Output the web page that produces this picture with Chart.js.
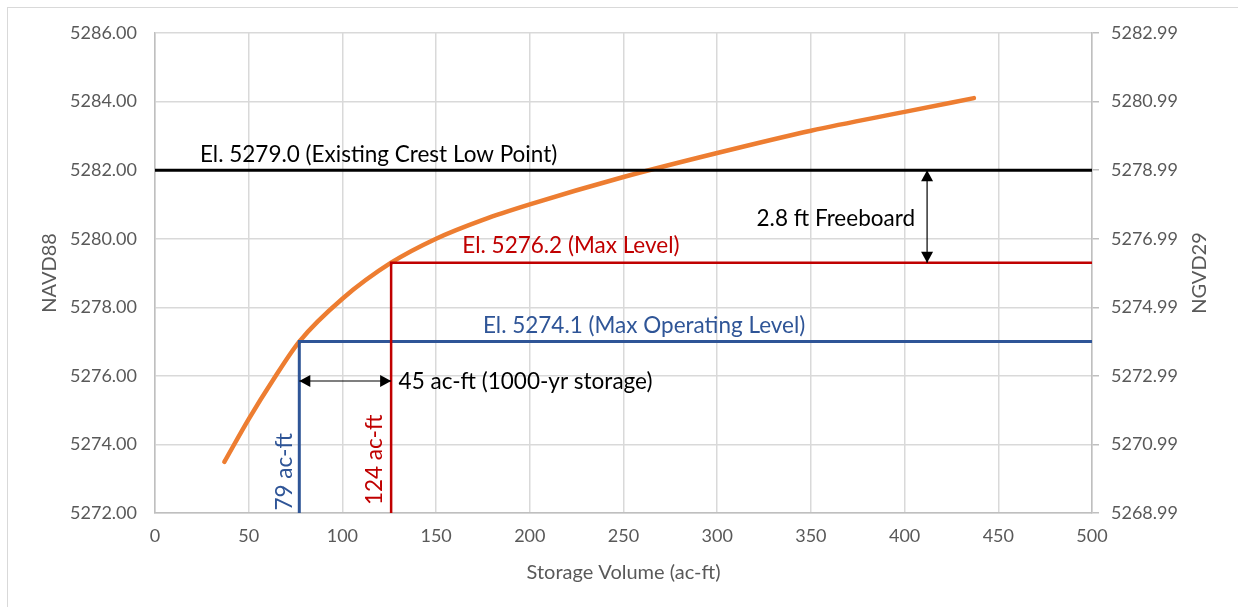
<!DOCTYPE html>
<html>
<head>
<meta charset="utf-8">
<script src="https://cdn.jsdelivr.net/npm/chart.js@4.4.1/dist/chart.umd.min.js"></script>
<style>
  html, body { margin: 0; padding: 0; background: #fff; }
  #frame { position: absolute; left: 7px; top: 7px; width: 1240px; height: 610px;
           border-left: 1px solid #d9d9d9; border-top: 1px solid #d9d9d9; }
  #wrap { position: absolute; left: 0; top: 0; width: 1238px; height: 607px; }
</style>
</head>
<body>
<div id="frame"></div>
<div id="wrap"><canvas id="chart"></canvas></div>
<script>
// stage-storage curve
const storageVolume = [37, 50, 63, 77, 100, 126, 150, 175, 200, 250, 300, 350, 400, 437];
const elevation = [5273.49, 5274.74, 5275.88, 5277.0, 5278.25, 5279.3, 5280.0, 5280.55, 5281.0, 5281.8, 5282.5, 5283.15, 5283.7, 5284.1];

// reference levels
const crestVol = [0, 500];
const crestEl = [5282, 5282];
const maxLevelVol = [126, 126, 500];
const maxLevelEl = [5272, 5279.3, 5279.3];
const maxOpVol = [77, 77, 500];
const maxOpEl = [5272, 5277, 5277];

// axes
const xTicks = [0, 50, 100, 150, 200, 250, 300, 350, 400, 450, 500];
const leftTicks = [5272, 5274, 5276, 5278, 5280, 5282, 5284, 5286];
const rightTickLabels = ['5268.99', '5270.99', '5272.99', '5274.99', '5276.99', '5278.99', '5280.99', '5282.99'];

const FONT = 'Lato, "Open Sans", sans-serif';
const pts = (xs, ys) => xs.map((x, i) => ({ x: x, y: ys[i] }));

// labels and arrows placed in data units
const notes = [
  { text: 'El. 5279.0 (Existing Crest Low Point)', x: 24, y: 5282.44, color: '#000000' },
  { text: 'El. 5276.2 (Max Level)', x: 164, y: 5279.79, color: '#c00000' },
  { text: 'El. 5274.1 (Max Operating Level)', x: 175, y: 5277.45, color: '#2f5597' },
  { text: '45 ac-ft (1000-yr storage)', x: 130, y: 5275.82, color: '#000000' },
  { text: '2.8 ft Freeboard', x: 321, y: 5280.57, color: '#000000' },
  { text: '79 ac-ft', x: 69.4, y: 5273.2, color: '#2f5597', rotate: true },
  { text: '124 ac-ft', x: 117, y: 5273.55, color: '#c00000', rotate: true }
];
const arrows = [
  { x1: 77, y1: 5275.85, x2: 126, y2: 5275.85 },
  { x1: 412, y1: 5282, x2: 412, y2: 5279.3 }
];

function arrowHead(ctx, x, y, ang) {
  ctx.save();
  ctx.translate(x, y);
  ctx.rotate(ang);
  ctx.beginPath();
  ctx.moveTo(0, 0);
  ctx.lineTo(-11, -6);
  ctx.lineTo(-11, 6);
  ctx.closePath();
  ctx.fill();
  ctx.restore();
}

const notesPlugin = {
  id: 'notes',
  afterDatasetsDraw(chart) {
    const ctx = chart.ctx;
    const xs = chart.scales.x, ys = chart.scales.y;
    ctx.save();
    ctx.strokeStyle = '#000';
    ctx.fillStyle = '#000';
    ctx.lineWidth = 1.2;
    arrows.forEach(a => {
      const x1 = xs.getPixelForValue(a.x1), y1 = ys.getPixelForValue(a.y1);
      const x2 = xs.getPixelForValue(a.x2), y2 = ys.getPixelForValue(a.y2);
      ctx.beginPath();
      ctx.moveTo(x1, y1);
      ctx.lineTo(x2, y2);
      ctx.stroke();
      const ang = Math.atan2(y2 - y1, x2 - x1);
      arrowHead(ctx, x2, y2, ang);
      arrowHead(ctx, x1, y1, ang + Math.PI);
    });
    ctx.font = '22.5px ' + FONT;
    ctx.textBaseline = 'middle';
    notes.forEach(n => {
      const px = xs.getPixelForValue(n.x), py = ys.getPixelForValue(n.y);
      ctx.fillStyle = n.color;
      if (n.rotate) {
        ctx.save();
        ctx.translate(px, py);
        ctx.rotate(-Math.PI / 2);
        ctx.textAlign = 'center';
        ctx.fillText(n.text, 0, 0);
        ctx.restore();
      } else {
        ctx.textAlign = 'left';
        ctx.fillText(n.text, px, py);
      }
    });
    // right axis title reads bottom-to-top like the left one
    const area = chart.chartArea;
    ctx.save();
    ctx.translate(1200, (area.top + area.bottom) / 2);
    ctx.rotate(-Math.PI / 2);
    ctx.font = '20px ' + FONT;
    ctx.fillStyle = '#595959';
    ctx.textAlign = 'center';
    ctx.fillText('NGVD29', 0, 0);
    ctx.restore();
    ctx.restore();
  }
};

const tickFont = { family: FONT, size: 18 };
const titleFont = { family: FONT, size: 20 };

new Chart(document.getElementById('chart'), {
  type: 'scatter',
  data: {
    datasets: [
      { data: pts(crestVol, crestEl), showLine: true, borderColor: '#000000', borderWidth: 3, pointRadius: 0 },
      { data: pts(maxLevelVol, maxLevelEl), showLine: true, borderColor: '#c00000', borderWidth: 2.5, pointRadius: 0 },
      { data: pts(maxOpVol, maxOpEl), showLine: true, borderColor: '#2f5597', borderWidth: 3, pointRadius: 0 },
      { data: pts(storageVolume, elevation), showLine: true, borderColor: '#ed7d31', borderWidth: 4.5,
        borderCapStyle: 'round', cubicInterpolationMode: 'monotone', pointRadius: 0 }
    ]
  },
  options: {
    responsive: true,
    maintainAspectRatio: false,
    animation: false,
    layout: { padding: { top: 33, left: 0, right: 0, bottom: 0 } },
    plugins: { legend: { display: false }, tooltip: { enabled: false } },
    scales: {
      x: {
        type: 'linear', min: 0, max: 500,
        afterBuildTicks: s => { s.ticks = xTicks.map(v => ({ value: v })); },
        afterFit: s => { s.height = 94; },
        ticks: { color: '#595959', font: tickFont, padding: 12 },
        grid: { color: '#d9d9d9', lineWidth: 1.5, drawTicks: false },
        border: { color: '#bfbfbf', width: 1.5 },
        title: { display: true, text: 'Storage Volume (ac-ft)', color: '#595959', font: titleFont, padding: { bottom: 22 } }
      },
      y: {
        type: 'linear', position: 'left', min: 5272, max: 5286,
        afterBuildTicks: s => { s.ticks = leftTicks.map(v => ({ value: v })); },
        afterFit: s => { s.width = 155; },
        ticks: { color: '#595959', font: tickFont, padding: 18, callback: v => v.toFixed(2) },
        grid: { color: '#d9d9d9', lineWidth: 1.5, drawTicks: false },
        border: { color: '#bfbfbf', width: 1.5 },
        title: { display: true, text: 'NAVD88', color: '#595959', font: titleFont, padding: { top: 38 } }
      },
      y2: {
        type: 'linear', position: 'right', min: 5272, max: 5286,
        afterBuildTicks: s => { s.ticks = leftTicks.map(v => ({ value: v })); },
        afterFit: s => { s.width = 146; },
        ticks: { color: '#595959', font: tickFont, padding: 12, callback: (v, i) => rightTickLabels[i] },
        grid: { drawOnChartArea: false, drawTicks: true, tickLength: 7, tickColor: '#bfbfbf', lineWidth: 1.5 },
        border: { color: '#bfbfbf', width: 1.5 },
        title: { display: false }
      }
    }
  },
  plugins: [notesPlugin]
});
</script>
</body>
</html>
